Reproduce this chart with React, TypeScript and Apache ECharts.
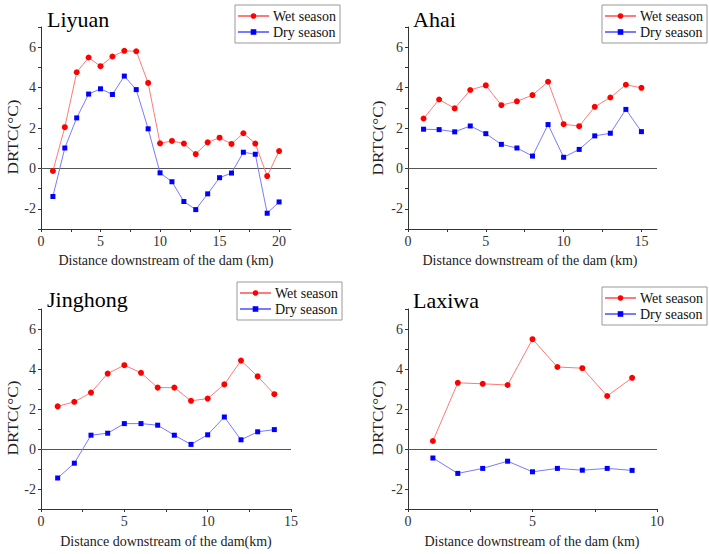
import React, { useEffect, useRef } from "react";
import * as echarts from "echarts";

// ---- data ----
const panelTitles = ["Liyuan", "Ahai", "Jinghong", "Laxiwa"];
const xAxisLabels = [
  "Distance downstream of the dam (km)",
  "Distance downstream of the dam (km)",
  "Distance downstream of the dam(km)",
  "Distance downstream of the dam (km)",
];
const yAxisLabel = "DRTC(°C)";
const seriesNames = ["Wet season", "Dry season"];

const liyuanDist = [1, 2, 3, 4, 5, 6, 7, 8, 9, 10, 11, 12, 13, 14, 15, 16, 17, 18, 19, 20];
const liyuanWet = [-0.13, 2.04, 4.76, 5.49, 5.06, 5.54, 5.82, 5.8, 4.23, 1.24, 1.36, 1.23, 0.71, 1.29, 1.52, 1.21, 1.74, 1.23, -0.38, 0.86];
const liyuanDry = [-1.39, 1.01, 2.5, 3.68, 3.94, 3.66, 4.57, 3.9, 1.96, -0.22, -0.66, -1.64, -2.04, -1.26, -0.46, -0.23, 0.8, 0.7, -2.22, -1.66];

const ahaiDist = [1, 2, 3, 4, 5, 6, 7, 8, 9, 10, 11, 12, 13, 14, 15];
const ahaiWet = [2.47, 3.41, 2.97, 3.88, 4.11, 3.13, 3.32, 3.63, 4.29, 2.19, 2.09, 3.05, 3.51, 4.14, 3.99];
const ahaiDry = [1.94, 1.92, 1.81, 2.1, 1.72, 1.19, 1.01, 0.61, 2.17, 0.55, 0.94, 1.61, 1.74, 2.92, 1.82];

const jinghongDist = [1, 2, 3, 4, 5, 6, 7, 8, 9, 10, 11, 12, 13, 14];
const jinghongWet = [2.13, 2.36, 2.82, 3.77, 4.19, 3.81, 3.07, 3.07, 2.41, 2.52, 3.23, 4.42, 3.63, 2.74];
const jinghongDry = [-1.45, -0.71, 0.69, 0.79, 1.27, 1.27, 1.19, 0.69, 0.23, 0.71, 1.6, 0.46, 0.86, 0.97];

const laxiwaDist = [1, 2, 3, 4, 5, 6, 7, 8, 9];
const laxiwaWet = [0.4, 3.31, 3.26, 3.2, 5.49, 4.1, 4.04, 2.65, 3.56];
const laxiwaDry = [-0.45, -1.22, -0.97, -0.61, -1.14, -0.97, -1.06, -0.97, -1.07];

const xMaxes = [21, 16, 15, 10];
const xLabelTicks = [
  [0, 5, 10, 15, 20],
  [0, 5, 10, 15],
  [0, 5, 10, 15],
  [0, 5, 10],
];
const xMinorTicks = [
  [0, 2.5, 5, 7.5, 10, 12.5, 15, 17.5, 20],
  [0, 2.5, 5, 7.5, 10, 12.5, 15],
  [0, 2.5, 5, 7.5, 10, 12.5, 15],
  [0, 2.5, 5, 7.5, 10],
];
const yMin = -3;
const yMax = 7;
const yLabelTicks = [-2, 0, 2, 4, 6];
const yTicks = [-3, -2, -1, 0, 1, 2, 3, 4, 5, 6, 7];

const dists = [liyuanDist, ahaiDist, jinghongDist, laxiwaDist];
const wets = [liyuanWet, ahaiWet, jinghongWet, laxiwaWet];
const drys = [liyuanDry, ahaiDry, jinghongDry, laxiwaDry];

// ---- layout ----
const FONT = "'Liberation Serif', 'Times New Roman', serif";
const grids = [
  { left: 41, top: 27, width: 250, height: 202 },
  { left: 408, top: 27, width: 249, height: 202 },
  { left: 41, top: 309, width: 250, height: 200 },
  { left: 408, top: 309, width: 249, height: 200 },
];
const legendPos = [
  { left: 235, top: 5 },
  { left: 602, top: 5 },
  { left: 237, top: 282 },
  { left: 602, top: 287 },
];
const titlePos = [
  { x: 47, y: 30 },
  { x: 413, y: 30 },
  { x: 47, y: 310 },
  { x: 413, y: 311 },
];
const xNamePos = [
  { x: 166, y: 267 },
  { x: 530, y: 267 },
  { x: 166, y: 548 },
  { x: 532, y: 548 },
];
const yNamePos = [
  { x: 13, y: 137 },
  { x: 378, y: 138 },
  { x: 13, y: 418 },
  { x: 378, y: 418 },
];

const WET_LINE = "#ff7a7a";
const WET_MARK = "#ff0000";
const DRY_LINE = "#7a7aff";
const DRY_MARK = "#0000ff";

export default function App() {
  const ref = useRef<HTMLDivElement>(null);

  useEffect(() => {
    if (!ref.current) return;
    const chart = echarts.init(ref.current, undefined, { renderer: "svg" });

    const xAxes = grids.map((_, i) => ({
      type: "value",
      gridIndex: i,
      min: 0,
      max: xMaxes[i],
      interval: 2.5,
      axisLine: { show: true, onZero: false, lineStyle: { color: "#333", width: 1 } },
      axisTick: { show: true, length: 3, customValues: xMinorTicks[i], lineStyle: { color: "#333" } },
      axisLabel: {
        show: true,
        customValues: xLabelTicks[i],
        margin: 5,
        fontFamily: FONT,
        fontSize: 14,
        color: "#333",
      },
      splitLine: { show: false },
    }));

    const yAxes = grids.map((_, i) => ({
      type: "value",
      gridIndex: i,
      min: yMin,
      max: yMax,
      interval: 1,
      axisLine: { show: true, onZero: false, lineStyle: { color: "#333", width: 1 } },
      axisTick: { show: true, length: 3, customValues: yTicks, lineStyle: { color: "#333" } },
      axisLabel: {
        show: true,
        customValues: yLabelTicks,
        margin: 5,
        fontFamily: FONT,
        fontSize: 14,
        color: "#333",
      },
      splitLine: { show: false },
    }));

    const series: any[] = [];
    grids.forEach((_, i) => {
      series.push({
        name: seriesNames[0],
        type: "line",
        xAxisIndex: i,
        yAxisIndex: i,
        data: dists[i].map((d, k) => [d, wets[i][k]]),
        symbol: "circle",
        symbolSize: 6,
        lineStyle: { color: WET_LINE, width: 1 },
        itemStyle: { color: WET_MARK },
        z: 3,
        markLine: {
          silent: true,
          symbol: "none",
          label: { show: false },
          lineStyle: { color: "#555", type: "solid", width: 1 },
          data: [{ yAxis: 0 }],
          z: 1,
        },
      });
      series.push({
        name: seriesNames[1],
        type: "line",
        xAxisIndex: i,
        yAxisIndex: i,
        data: dists[i].map((d, k) => [d, drys[i][k]]),
        symbol: "rect",
        symbolSize: 5,
        lineStyle: { color: DRY_LINE, width: 1 },
        itemStyle: { color: DRY_MARK },
        z: 3,
      });
    });

    const legends = legendPos.map((p) => ({
      data: seriesNames,
      orient: "vertical",
      left: p.left,
      top: p.top,
      padding: [4, 4, 4, 2],
      itemWidth: 31,
      itemHeight: 7,
      itemGap: 2,
      borderColor: "#999",
      borderWidth: 1,
      backgroundColor: "#fff",
      selectedMode: false,
      textStyle: { fontFamily: FONT, fontSize: 14, color: "#111", padding: [0, 0, 0, -1] },
    }));

    const graphics: any[] = [];
    grids.forEach((_, i) => {
      graphics.push({
        type: "text",
        x: titlePos[i].x,
        y: titlePos[i].y,
        silent: true,
        style: {
          text: panelTitles[i],
          fontFamily: FONT,
          fontSize: 22,
          fill: "#000",
          align: "left",
          verticalAlign: "bottom",
        },
      });
      graphics.push({
        type: "text",
        x: xNamePos[i].x,
        y: xNamePos[i].y,
        silent: true,
        style: {
          text: xAxisLabels[i],
          fontFamily: FONT,
          fontSize: 14,
          fill: "#222",
          align: "center",
          verticalAlign: "bottom",
        },
      });
      graphics.push({
        type: "text",
        x: yNamePos[i].x,
        y: yNamePos[i].y,
        rotation: Math.PI / 2,
        scaleX: 1.15,
        silent: true,
        style: {
          text: yAxisLabel,
          fontFamily: FONT,
          fontSize: 15,
          fill: "#222",
          align: "center",
          verticalAlign: "middle",
        },
      });
    });

    chart.setOption({
      animation: false,
      backgroundColor: "#fff",
      grid: grids.map((g) => ({ ...g, containLabel: false, outerBoundsMode: "none" })),
      xAxis: xAxes,
      yAxis: yAxes,
      legend: legends,
      series,
      graphic: graphics,
    });

    return () => {
      chart.dispose();
    };
  }, []);

  return (
    <div
      ref={ref}
      style={{ position: "fixed", left: 0, top: 0, width: 709, height: 554 }}
    />
  );
}
